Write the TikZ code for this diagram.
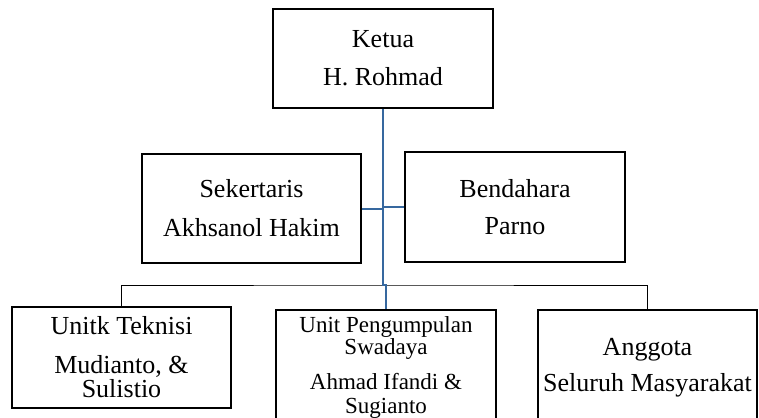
\documentclass[tikz,border=0pt]{standalone}
\usepackage{fontspec}
\setmainfont{Liberation Serif}
\usetikzlibrary{calc}
\definecolor{lineblue}{HTML}{36689F}
\tikzset{
  jabatan/.style={draw, line width=2pt, inner sep=0pt, align=center,
                  font=\fontsize{26}{24}\selectfont},
  garisbiru/.style={lineblue, line width=2pt},
  garisbus/.style={black, line width=0.8pt},
}
\begin{document}
\begin{tikzpicture}[x={(1pt, 0pt)}, y={(0pt, -1pt)}]
  \useasboundingbox (0, 0) rectangle (759, 417);

  % pengurus inti
  \node[jabatan, minimum width=220, minimum height=99] (ketua) at (383, 58.5)
    {Ketua\\[14pt]H. Rohmad};
  \node[jabatan, minimum width=219, minimum height=109] (sekertaris) at (251.5, 208.5)
    {Sekertaris\\[15pt]Akhsanol Hakim};
  \node[jabatan, minimum width=220, minimum height=110] (bendahara) at (515, 207)
    {Bendahara\\[13pt]Parno};

  % unit dan anggota
  \node[jabatan, minimum width=219, minimum height=101] (teknisi) at (121.5, 357.5)
    {Unitk Teknisi\\[15pt]Mudianto, \&\\Sulistio};
  \node[jabatan, minimum width=220, minimum height=115,
        font=\fontsize{23}{22}\selectfont] (pengumpulan) at (386, 367.5)
    {Unit Pengumpulan\\Swadaya\\[13pt]Ahmad Ifandi \&\\[2pt]Sugianto};
  \node[jabatan, minimum width=219, minimum height=115] (anggota) at (647.5, 367.5)
    {Anggota\\[12pt]Seluruh Masyarakat};

  \coordinate (bus) at (383, 285);
  \draw[garisbus] (teknisi.north) |- (bus) -| (anggota.north);

  \draw[garisbiru] (ketua.south) -- (bus) -| (pengumpulan.north);
  \draw[garisbiru] (sekertaris.east) -- (sekertaris.east -| ketua.south);
  \draw[garisbiru] (bendahara.west) -- (bendahara.west -| ketua.south);
\end{tikzpicture}
\end{document}
